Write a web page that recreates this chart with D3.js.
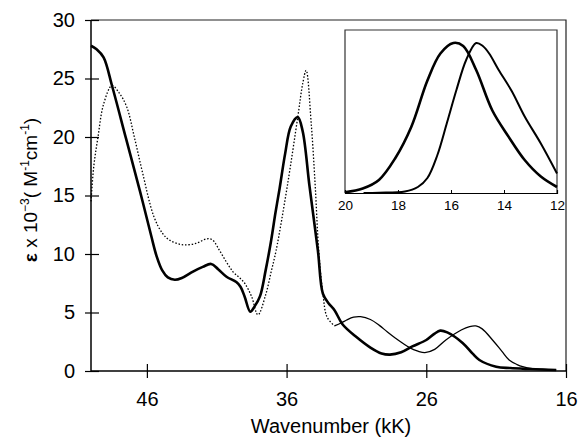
<!DOCTYPE html>
<html>
<head>
<meta charset="utf-8">
<script src="https://cdn.jsdelivr.net/npm/d3@7"></script>
<style>
  body { margin: 0; background: #fff; }
  text { font-family: Arial, "Liberation Sans", sans-serif; fill: #000; }
</style>
</head>
<body>
<svg id="chart" width="579" height="439"></svg>
<script>
// tick labels
const xTicks = [46, 36, 26, 16];
const yTicks = [0, 5, 10, 15, 20, 25, 30];
const insetTicks = [20, 18, 16, 14, 12];

// thick solid spectrum
const boldWn  = [50, 49.6, 49.1, 48.5, 47.5, 46.5, 45.7, 45.3, 44.9, 44.5, 44.0, 43.5, 42.7, 42.0, 41.4, 40.9, 40.3, 39.6, 39.3, 39.0, 38.6, 38.3, 37.9, 37.5, 37.1, 36.8, 36.5, 36.1, 35.7, 35.2, 34.85, 34.36, 33.76, 33.4, 33.0, 32.57, 32.0, 31.0, 30.0, 29.2, 28.6, 27.8, 27.0, 26.0, 25.4, 25.0, 24.5, 23.4, 22.7, 22.2, 21.0, 20.0, 18.6, 16.7];
const boldEps = [27.8, 27.5, 26.8, 24.4, 19.9, 15.4, 11.6, 9.8, 8.6, 8.0, 7.8, 7.95, 8.5, 8.9, 9.15, 8.7, 8.06, 7.6, 7.2, 6.35, 5.07, 5.5, 6.4, 8.6, 11.2, 13.5, 15.6, 18.6, 20.9, 21.7, 20.5, 15.8, 10.3, 6.6, 5.8, 5.2, 4.0, 2.9, 2.0, 1.5, 1.4, 1.6, 2.1, 2.65, 3.2, 3.45, 3.3, 2.4, 1.5, 0.94, 0.37, 0.25, 0.17, 0.09];

// thin spectrum, dotted part (high energy)
const dotWn  = [50, 49.8, 49.5, 49.1, 48.5, 48.0, 47.45, 46.9, 46.3, 45.5, 44.9, 44.4, 43.5, 42.5, 41.7, 41.3, 40.8, 40.3, 39.85, 39.4, 39.0, 38.5, 38.05, 37.5, 37.1, 36.75, 35.95, 35.2, 34.84, 34.6, 34.24, 33.95, 33.7, 33.4, 33.1, 32.57];
const dotEps = [14.5, 17.5, 20.0, 22.8, 24.4, 23.8, 22.6, 20.0, 16.9, 13.2, 11.8, 11.2, 10.8, 10.9, 11.3, 11.2, 10.3, 9.3, 8.5, 8.0, 7.5, 6.35, 4.8, 6.5, 8.5, 10.3, 15.8, 21.7, 24.6, 25.7, 21.2, 15.8, 10.3, 6.6, 4.6, 3.85];

// thin spectrum, solid part (low energy)
const thinWn  = [32.57, 32.1, 31.7, 31.2, 30.7, 30.0, 29.36, 28.8, 28.2, 27.2, 26.6, 26.1, 25.4, 24.6, 23.5, 22.9, 22.45, 22.0, 21.26, 20.6, 20.07, 19.5, 19.1, 18.4, 17.7, 16.7];
const thinEps = [3.85, 4.1, 4.36, 4.6, 4.64, 4.4, 3.9, 3.35, 2.8, 2.0, 1.7, 1.57, 1.85, 2.65, 3.5, 3.8, 3.85, 3.6, 2.65, 1.7, 0.94, 0.55, 0.37, 0.2, 0.15, 0.09];

// inset: normalised bands
const insBroadWn  = [20, 19.33, 18.72, 18.11, 17.5, 16.89, 16.4, 15.91, 15.54, 15.05, 14.44, 13.83, 13.22, 12.61, 12.0];
const insBroadVal = [0.005, 0.03, 0.087, 0.23, 0.44, 0.75, 0.93, 1.0, 0.98, 0.82, 0.55, 0.376, 0.22, 0.11, 0.04];
const insNarrowWn  = [19.3, 18.72, 17.74, 17.25, 16.89, 16.52, 16.15, 15.79, 15.42, 15.05, 14.8, 14.56, 14.2, 13.71, 13.22, 12.61, 12.0];
const insNarrowVal = [0.0, 0.002, 0.01, 0.04, 0.1, 0.25, 0.47, 0.69, 0.89, 1.0, 0.98, 0.93, 0.82, 0.68, 0.51, 0.33, 0.13];

const svg = d3.select('#chart');

// main plot box
const l = 91, r = 566, t = 20, b = 371;

const xScale = d3.scaleLinear().domain([50, 16]).range([l, r]);
const yScale = d3.scaleLinear().domain([0, 30]).range([b, t]);

const zip = (a, c) => a.map((d, i) => [d, c[i]]);

const line = d3.line()
    .x(d => xScale(d[0]))
    .y(d => yScale(d[1]))
    .curve(d3.curveCatmullRom.alpha(0.5));

// frame (top and right)
svg.append('path')
    .attr('d', `M${l},${t}H${r}V${b}`)
    .attr('fill', 'none')
    .attr('stroke', '#222')
    .attr('stroke-width', 1.2);

// inset
const il = 345, ir = 557, it = 30, ib = 193;
const ixScale = d3.scaleLinear().domain([20, 12]).range([il, ir]);
const iyScale = d3.scaleLinear().domain([0, 1]).range([ib, 43]);
const iline = d3.line()
    .x(d => ixScale(d[0]))
    .y(d => iyScale(d[1]))
    .curve(d3.curveCatmullRom.alpha(0.5));

svg.append('path')
    .attr('d', `M${il},${ib}V${it}H${ir}V${ib}`)
    .attr('fill', 'none')
    .attr('stroke', '#333')
    .attr('stroke-width', 1.2);

const ixAxis = d3.axisBottom(ixScale).tickValues(insetTicks).tickSize(-3).tickPadding(7).tickFormat(d3.format('d'));
const ig = svg.append('g')
    .attr('transform', `translate(0,${ib})`)
    .call(ixAxis);
ig.select('.domain').attr('stroke', '#000').attr('stroke-width', 1.2);
ig.selectAll('.tick line').attr('stroke', '#000');
ig.selectAll('.tick text')
    .attr('font-size', 13.5)
    .attr('font-family', 'Arial, "Liberation Sans", sans-serif');

svg.append('path')
    .attr('d', iline(zip(insNarrowWn, insNarrowVal)))
    .attr('fill', 'none')
    .attr('stroke', '#000')
    .attr('stroke-width', 2);
svg.append('path')
    .attr('d', iline(zip(insBroadWn, insBroadVal)))
    .attr('fill', 'none')
    .attr('stroke', '#000')
    .attr('stroke-width', 2.6);

// spectra
svg.append('path')
    .attr('d', line(zip(dotWn, dotEps)))
    .attr('fill', 'none')
    .attr('stroke', '#000')
    .attr('stroke-width', 1.3)
    .attr('stroke-dasharray', '1.5,1.8');

svg.append('path')
    .attr('d', line(zip(thinWn, thinEps)))
    .attr('fill', 'none')
    .attr('stroke', '#000')
    .attr('stroke-width', 1.3);

svg.append('path')
    .attr('d', line(zip(boldWn, boldEps)))
    .attr('fill', 'none')
    .attr('stroke', '#000')
    .attr('stroke-width', 2.6);

// axes with crossing ticks
const xAxis = d3.axisBottom(xScale).tickValues(xTicks).tickSize(7).tickPadding(14);
const gx = svg.append('g')
    .attr('transform', `translate(0,${b})`)
    .call(xAxis);
gx.select('.domain').attr('d', `M${l},0H${r}`).attr('stroke-width', 1.5);
gx.selectAll('.tick line').attr('y1', -7).attr('stroke-width', 1.2);
gx.selectAll('.tick text')
    .attr('font-size', 20)
    .attr('font-family', 'Arial, "Liberation Sans", sans-serif');

const yAxis = d3.axisLeft(yScale).tickValues(yTicks).tickSize(6).tickPadding(10);
const gy = svg.append('g')
    .attr('transform', `translate(${l},0)`)
    .call(yAxis);
gy.select('.domain').attr('d', `M0,${b}V${t}`).attr('stroke-width', 1.5);
gy.selectAll('.tick line').attr('x2', -6).attr('x1', 8).attr('stroke-width', 1.2);
gy.selectAll('.tick text')
    .attr('font-size', 20)
    .attr('font-family', 'Arial, "Liberation Sans", sans-serif');

// axis titles
svg.append('text')
    .attr('x', 331)
    .attr('y', 433)
    .attr('text-anchor', 'middle')
    .attr('font-size', 20)
    .text('Wavenumber (kK)');

const yt = svg.append('text')
    .attr('transform', 'translate(37,190) rotate(-90)')
    .attr('text-anchor', 'middle')
    .attr('font-size', 19);
yt.append('tspan').attr('font-weight', 'bold').text('ε');
yt.append('tspan').text(' x 10');
yt.append('tspan').attr('font-size', 12).attr('dy', -8).text('−3');
yt.append('tspan').attr('dy', 8).text('( M');
yt.append('tspan').attr('font-size', 12).attr('dy', -8).text('-1');
yt.append('tspan').attr('dy', 8).text('cm');
yt.append('tspan').attr('font-size', 12).attr('dy', -8).text('-1');
yt.append('tspan').attr('dy', 8).text(')');
</script>
</body>
</html>
